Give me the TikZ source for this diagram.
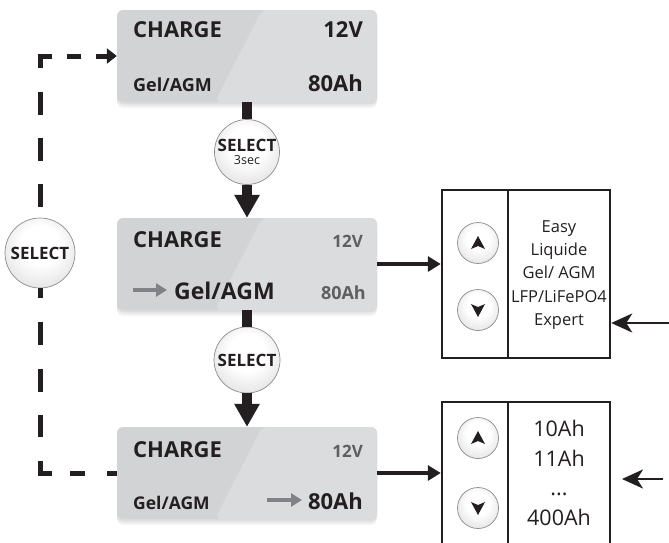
\documentclass[tikz,border=0pt]{standalone}
\usepackage{fontspec}
\setmainfont{Open Sans}
\usetikzlibrary{arrows.meta,shadows}
\definecolor{ink}{HTML}{231F20}
\definecolor{dim}{HTML}{5E5F61}
\definecolor{garrow}{HTML}{808285}
\definecolor{lcdA}{HTML}{D2D3D5}
\definecolor{lcdB}{HTML}{DBDCDD}
\definecolor{btnedge}{HTML}{8C8C8C}
\pgfdeclareradialshading{btnshade}{\pgfpoint{0bp}{8bp}}{color(0bp)=(white); color(14bp)=(white); color(38bp)=(black!16); color(50bp)=(black!28)}
\newcommand{\fsz}[1]{\fontsize{#1pt}{#1pt}\selectfont}
\tikzset{
  lcd/.style={rounded corners=6pt, minimum width=260pt, minimum height=92pt, inner sep=0pt, fill=lcdA,
    general shadow={fill=black, opacity=0.05, shadow yshift=-2pt},
    general shadow={fill=black, opacity=0.05, shadow yshift=-4pt},
    general shadow={fill=black, opacity=0.04, shadow yshift=-6pt},
    path picture={\fill[lcdB] ([xshift=145pt]path picture bounding box.north west) -- (path picture bounding box.north east) -- (path picture bounding box.south east) -- ([xshift=98pt]path picture bounding box.south west) -- cycle;}},
  lbl/.style={inner sep=0pt, text=ink},
  btn/.style={circle, draw=btnedge, line width=0.7pt, shade, shading=btnshade, inner sep=0pt, text=ink, align=center},
  rbox/.style={draw=ink, line width=2.5pt, minimum width=168pt, minimum height=168pt, inner sep=0pt},
  rline/.style={draw=ink, line width=1.6pt},
  bar/.style={draw=ink, line width=10pt},
  harrow/.style={draw=ink, line width=4.5pt, -{Triangle[length=13pt,width=15pt]}},
  inarrow/.style={draw=ink, line width=2.5pt, -{Stealth[length=21pt,width=19pt,inset=6pt]}},
  garr/.style={draw=garrow, line width=3.5pt, -{Triangle[length=11pt,width=13pt]}},
  dashl/.style={draw=ink, line width=5pt, line join=miter},
  glyph/.style={fill=ink},
  optA/.style={lbl, anchor=base, font=\fsz{16.5}},
  optB/.style={lbl, anchor=base, font=\fsz{21.5}},
}
\begin{document}
\begin{tikzpicture}[x=1pt, y=-1pt]
\useasboundingbox (0,0) rectangle (669,542);
% LCD screens
\node[lcd] (top) at (247,56) {};
\node[lcd] (mid) at (247,264) {};
\node[lcd] (bot) at (247,473) {};
% top screen texts
\node[lbl, anchor=base west, font=\bfseries\fsz{22}] (t1) at (133,37) {CHARGE};
\node[lbl, anchor=base east, font=\bfseries\fsz{22}] (t2) at (363,37) {12V};
\node[lbl, anchor=base west, font=\bfseries\fsz{18}] (t3) at (133,91) {Gel/AGM};
\node[lbl, anchor=base east, font=\bfseries\fsz{22}] (t4) at (363,91) {80Ah};
% middle screen texts
\node[lbl, anchor=base west, font=\bfseries\fsz{22}] (m1) at (133,247) {CHARGE};
\node[lbl, anchor=base east, font=\bfseries\fsz{17}, text=dim] (m2) at (363,247) {12V};
\node[lbl, anchor=base west, font=\bfseries\fsz{23}] (m3) at (174,299) {Gel/AGM};
\node[lbl, anchor=base east, font=\bfseries\fsz{18}, text=dim] (m4) at (366,299) {80Ah};
\draw[garr] (133,290) -- (167,290);
% bottom screen texts
\node[lbl, anchor=base west, font=\bfseries\fsz{22}] (b1) at (133,457) {CHARGE};
\node[lbl, anchor=base east, font=\bfseries\fsz{17}, text=dim] (b2) at (363,457) {12V};
\node[lbl, anchor=base west, font=\bfseries\fsz{17.5}] (b3) at (133,509) {Gel/AGM};
\node[lbl, anchor=base east, font=\bfseries\fsz{22}] (b4) at (363,509) {80Ah};
\draw[garr] (267,500) -- (302,500);
% SELECT buttons
\node[btn, minimum size=65pt] (s1) at (247,152) {};
\node[lbl, anchor=base, font=\bfseries\fsz{17}] (s1a) at ([yshift=1pt]s1.center) {SELECT};
\node[lbl, anchor=base, font=\fsz{12.5}] (s1b) at ([yshift=-12.5pt]s1.center) {3sec};
\node[btn, minimum size=66pt] (s2) at (247,360) {\bfseries\fsz{17}SELECT};
\node[btn, minimum size=70pt] (sl) at (40,253) {\bfseries\fsz{17}SELECT};
% vertical flow
\draw[bar] (top.south) -- (s1);
\draw[bar, -{Triangle[length=23pt,width=24pt]}] (s1) -- (mid.north);
\draw[bar] (mid.south) -- (s2);
\draw[bar, -{Triangle[length=23pt,width=24pt]}] (s2) -- (bot.north);
% dashed loop
\coordinate (c1) at (sl.north |- top.west);
\coordinate (c2) at (sl.south |- bot.west);
\draw[dashl, dash pattern=on 11pt off 15pt on 14pt off 15pt on 24pt off 24pt on 23pt off 23pt on 23pt off 23pt on 23pt off 23pt, {Triangle[length=10pt,width=15pt]}-] (top.west) -- (c1) -- (sl.north);
\draw[dashl, dash pattern=on 10pt off 22pt on 15pt off 18pt on 24pt off 24pt on 22pt off 23pt on 23pt off 24pt on 23pt off 24pt on 23pt off 30pt] (bot.west) -- (c2) -- (sl.south);
% right boxes
\node[rbox] (box1) at (526,274) {};
\node[rbox] (box2) at (526,486) {};
\coordinate (dv) at (508,0);
\draw[rline] (box1.north -| dv) -- (box1.south -| dv);
\draw[rline] (box2.north -| dv) -- (box2.south -| dv);
\node[btn, minimum size=41pt] (u1) at (478,243) {};
\node[btn, minimum size=41pt] (d1) at (478,310) {};
\node[btn, minimum size=41pt] (u2) at (478,438) {};
\node[btn, minimum size=41pt] (d2) at (478,508) {};
\fill[glyph, shift={(u1.center)}] (0,-7) -- (7,6) -- (0,3) -- (-7,6) -- cycle;
\fill[glyph, shift={(u2.center)}] (0,-7) -- (7,6) -- (0,3) -- (-7,6) -- cycle;
\fill[glyph, shift={(d1.center)}] (0,7) -- (7,-6) -- (0,-3) -- (-7,-6) -- cycle;
\fill[glyph, shift={(d2.center)}] (0,7) -- (7,-6) -- (0,-3) -- (-7,-6) -- cycle;
% option texts
\node[optA] (o1) at (559,232.7) {Easy};
\node[optA] (o2) at (559,255.8) {Liquide};
\node[optA] (o3) at (559,278.9) {Gel/ AGM};
\node[optA] (o4) at (559,302) {LFP/LiFePO4};
\node[optA] (o5) at (559,325.1) {Expert};
\node[optB] (p1) at (559,436.7) {10Ah};
\node[optB] (p2) at (559,466) {11Ah};
\node[optB] (p3) at (559,495) {...};
\node[optB] (p4) at (559,525) {400Ah};
% arrows to right boxes
\draw[harrow] (mid.east) -- (mid.east -| box1.west);
\draw[harrow] (bot.east) -- (bot.east -| box2.west);
\coordinate (in1) at (669,323);
\draw[inarrow] (in1) -- (in1 -| box1.east);
\coordinate (in2s) at (663,479);
\coordinate (in2e) at (622,479);
\draw[inarrow] (in2s) -- (in2e);
\end{tikzpicture}
\end{document}
